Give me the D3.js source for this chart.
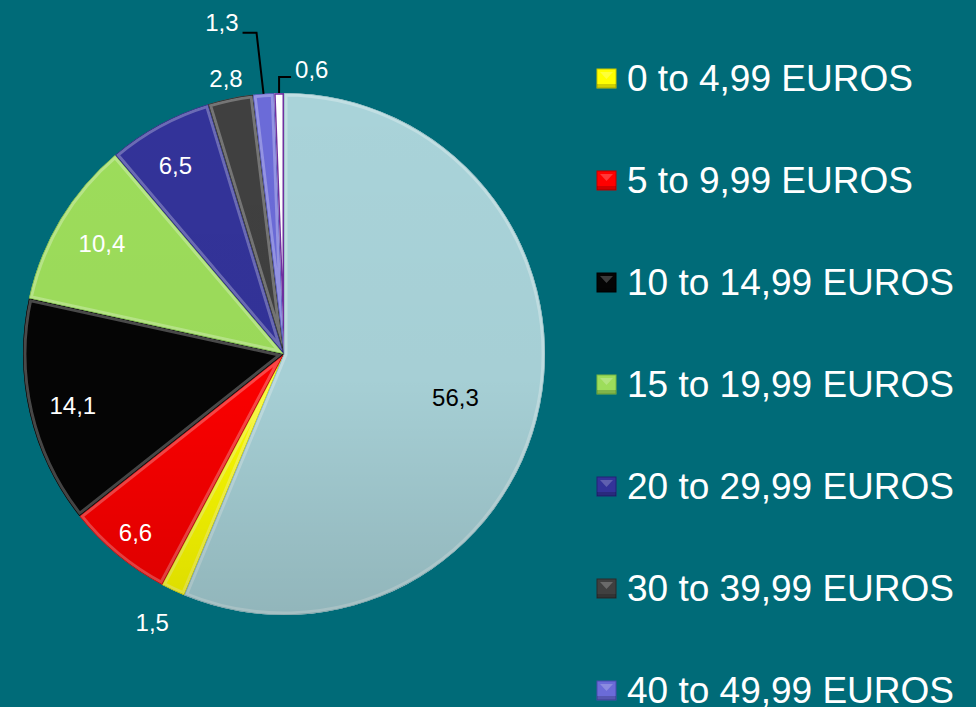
<!DOCTYPE html>
<html>
<head>
<meta charset="utf-8">
<script src="https://cdn.jsdelivr.net/npm/d3@7"></script>
<style>
  html, body { margin: 0; padding: 0; background: #006b78; overflow: hidden; }
  svg { display: block; font-family: "Liberation Sans", Arial, sans-serif; }
</style>
</head>
<body>
<div id="chart"></div>
<script>
// data (share of respondents, %)
const categories = ["0 to 4,99 EUROS", "5 to 9,99 EUROS", "10 to 14,99 EUROS", "15 to 19,99 EUROS",
                    "20 to 29,99 EUROS", "30 to 39,99 EUROS", "40 to 49,99 EUROS", "50 EUROS AND MORE", "NOTHING"];
const values = [1.5, 6.6, 14.1, 10.4, 6.5, 2.8, 1.3, 0.6, 56.3];
const valueLabels = ["1,5", "6,6", "14,1", "10,4", "6,5", "2,8", "1,3", "0,6", "56,3"];
const colors = ["#ffff00", "#ff0000", "#050505", "#9ddd5b", "#333399", "#404040", "#6b6bd8", "#ffffff", "#a9d3d9"];
const edgeColors = ["#c8c800", "#c00000", "#000000", "#78b840", "#222277", "#2a2a2a", "#4a4ab0", "#7030a0", "#8fb8be"];

const width = 976, height = 707;
const cx = 284, cy = 354, R = 261;

const svg = d3.select("#chart").append("svg")
    .attr("width", width)
    .attr("height", height);

svg.append("rect").attr("width", width).attr("height", height).attr("fill", "#006b78");

const defs = svg.append("defs");
const shade = defs.append("linearGradient").attr("id", "shade")
    .attr("x1", 0).attr("y1", 0).attr("x2", 0).attr("y2", 1);
shade.append("stop").attr("offset", "0%").attr("stop-color", "#000").attr("stop-opacity", 0);
shade.append("stop").attr("offset", "55%").attr("stop-color", "#000").attr("stop-opacity", 0.02);
shade.append("stop").attr("offset", "100%").attr("stop-color", "#000").attr("stop-opacity", 0.14);

// the big slice is last in the data but starts at 12 o'clock
const total = d3.sum(values);
const start = 2 * Math.PI * values[values.length - 1] / total;

const pie = d3.pie().sort(null).value(d => d)
    .startAngle(start).endAngle(start + 2 * Math.PI);
const arcs = pie(values);
const arc = d3.arc().innerRadius(0).outerRadius(R);

const g = svg.append("g").attr("transform", `translate(${cx},${cy})`);

// slices, with a soft inner edge for the bevel look
arcs.forEach((a, i) => {
    defs.append("clipPath").attr("id", "clip" + i)
        .append("path").attr("d", arc(a));
});

const slices = g.selectAll("g.slice")
    .data(arcs)
    .join("g")
    .classed("slice", true);

slices.append("path")
    .attr("d", arc)
    .attr("fill", (d, i) => colors[i]);

slices.append("path")
    .attr("d", arc)
    .attr("clip-path", (d, i) => `url(#clip${i})`)
    .attr("fill", "none")
    .attr("stroke", "#fff")
    .attr("stroke-opacity", 0.28)
    .attr("stroke-width", 7);

slices.append("path")
    .attr("d", arc)
    .attr("clip-path", (d, i) => `url(#clip${i})`)
    .attr("fill", "none")
    .attr("stroke", (d, i) => edgeColors[i])
    .attr("stroke-width", (d, i) => i === 7 ? 3 : 1.2);

g.append("circle").attr("r", R).attr("fill", "url(#shade)");

// value labels
const labelRadius = [1.16, 0.89, 0.87, 0.85, 0.91, 1.08, null, null, 0.65];
const labelShift = [[-3, -6], [0, 0], [10, 0], [8, 4], [5, 20], [0, 0], [0, 0], [0, 0], [5, 10]];
const labels = g.append("g").attr("font-size", 24);

arcs.forEach((a, i) => {
    if (labelRadius[i] == null) return;
    const m = (a.startAngle + a.endAngle) / 2;
    const r = labelRadius[i] * R;
    labels.append("text")
        .attr("x", Math.sin(m) * r + labelShift[i][0])
        .attr("y", -Math.cos(m) * r + labelShift[i][1])
        .attr("text-anchor", "middle")
        .attr("dominant-baseline", "central")
        .attr("fill", i === 8 ? "#000" : "#fff")
        .text(valueLabels[i]);
});

// leader-line labels for the two thin slices near 12 o'clock
const leaders = { 6: { up: 61, tilt: -7, arm: -14 }, 7: { up: 16, tilt: 0, arm: 12 } };
Object.keys(leaders).forEach(k => {
    const i = +k, L = leaders[k], a = arcs[i];
    const m = (a.startAngle + a.endAngle) / 2;
    const p0 = [Math.sin(m) * R, -Math.cos(m) * R];
    const p1 = [p0[0] + L.tilt, p0[1] - L.up];
    const p2 = [p1[0] + L.arm, p1[1]];
    g.append("polyline")
        .attr("points", [p0, p1, p2].map(p => p.join(",")).join(" "))
        .attr("fill", "none")
        .attr("stroke", "#000")
        .attr("stroke-width", 2);
    labels.append("text")
        .attr("x", p2[0] + (L.arm < 0 ? -4 : 4))
        .attr("y", p2[1] - (L.arm < 0 ? 10 : 8))
        .attr("text-anchor", L.arm < 0 ? "end" : "start")
        .attr("dominant-baseline", "central")
        .attr("fill", "#fff")
        .text(valueLabels[i]);
});

// legend (the last visible row runs into the bottom edge, as in the original)
const legendY = d3.scalePoint().domain(categories).range([78, 78 + 102 * (categories.length - 1)]);
const legend = svg.append("g").attr("transform", "translate(597,0)");
const items = legend.selectAll("g.item")
    .data(categories.filter(d => legendY(d) < height))
    .join("g")
    .classed("item", true)
    .attr("transform", d => `translate(0,${legendY(d)})`);

items.append("rect")
    .attr("x", 0).attr("y", -9)
    .attr("width", 19).attr("height", 19)
    .attr("fill", (d, i) => colors[i])
    .attr("stroke", (d, i) => edgeColors[i])
    .attr("stroke-width", 1);
items.append("path")
    .attr("d", "M3,-6 L16,-6 L9.5,1 Z")
    .attr("fill", "#fff")
    .attr("fill-opacity", 0.22);
items.append("rect")
    .attr("x", 0).attr("y", 6)
    .attr("width", 19).attr("height", 4)
    .attr("fill", "#000")
    .attr("fill-opacity", 0.18);

items.append("text")
    .attr("x", 30)
    .attr("y", 0)
    .attr("dominant-baseline", "central")
    .attr("font-size", 37)
    .attr("fill", "#fff")
    .text(d => d);
</script>
</body>
</html>
